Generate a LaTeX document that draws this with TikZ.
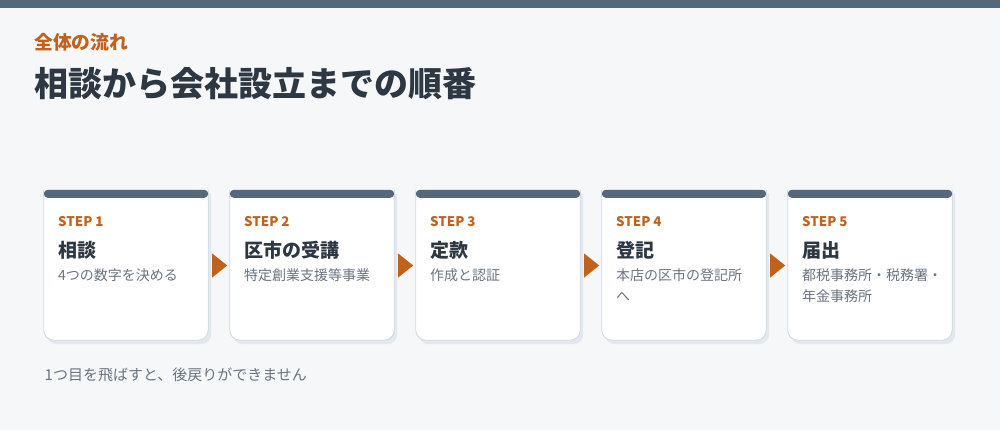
\documentclass[tikz,border=0pt]{standalone}
\usepackage{fontspec}
\setmainfont{Noto Sans CJK JP}
\usetikzlibrary{calc}
\definecolor{bgc}{HTML}{F5F7F9}
\definecolor{slatec}{HTML}{55677A}
\definecolor{accentc}{HTML}{C2611B}
\definecolor{darkc}{HTML}{2D3843}
\definecolor{grayc}{HTML}{6A7480}
\definecolor{linec}{HTML}{D0D9E2}
\definecolor{shadowc}{HTML}{E2E8EE}
\tikzset{
  cardframe/.style={rectangle, minimum width=164pt, minimum height=150pt, inner sep=0pt},
  steplabel/.style={anchor=base west, inner sep=0pt, text=accentc, font=\fontsize{13.3}{16}\selectfont\bfseries},
  cardtitle/.style={anchor=base west, inner sep=0pt, text=darkc, font=\fontsize{19}{23}\selectfont\bfseries},
  cardtext/.style={anchor=base west, inner sep=0pt, text=grayc, font=\fontsize{14}{17}\selectfont},
  arrowhead/.style={fill=accentc},
}
\newcommand\stepcard[6]{%
  \node[cardframe] (card#1) at (#2+82,265) {};
  \fill[shadowc, rounded corners=10pt] ($(card#1.north west)+(3,4)$) -- ($(card#1.south west)+(3,4)$) -- ($(card#1.south east)+(3,4)$) -- ($(card#1.north east)+(3,4)$);
  \path[fill=white, draw=linec, line width=0.8pt, rounded corners=10pt] (card#1.north west) -- (card#1.south west) -- (card#1.south east) -- (card#1.north east);
  \fill[slatec, rounded corners=4pt] (card#1.north west) rectangle ($(card#1.north east)+(0,8)$);
  \node[steplabel] (step#1) at (#2+14,227) {#3};
  \node[cardtitle] (title#1) at (#2+14,257.2) {#4};
  \node[cardtext] (texta#1) at (#2+14,280.3) {#5};
  \node[cardtext] (textb#1) at (#2+14,301.3) {#6};
}
\newcommand\steparrow[1]{%
  \fill[arrowhead] ($(card#1.east)+(4,-11.5)$) -- ($(card#1.east)+(19,0.5)$) -- ($(card#1.east)+(4,12.5)$) -- cycle;
}
\begin{document}
\begin{tikzpicture}[x=1pt,y=-1pt]
\fill[bgc] (0,0) rectangle (1000,430);
\useasboundingbox (0,0) rectangle (1000,430);
\fill[slatec] (0,0) rectangle (1000,8);
\node[anchor=base west, inner sep=0pt, text=accentc, font=\fontsize{18.8}{22}\selectfont\bfseries] (kicker) at (34,49.6) {全体の流れ};
\node[anchor=base west, inner sep=0pt, text=darkc, font=\fontsize{34}{40}\selectfont\bfseries] (headline) at (34.5,96.2) {相談から会社設立までの順番};
\stepcard{1}{44}{STEP 1}{相談}{4つの数字を決める}{}
\stepcard{2}{230}{STEP 2}{区市の受講}{特定創業支援等事業}{}
\stepcard{3}{416}{STEP 3}{定款}{作成と認証}{}
\stepcard{4}{602}{STEP 4}{登記}{本店の区市の登記所}{へ}
\stepcard{5}{788}{STEP 5}{届出}{都税事務所・税務署・}{年金事務所}
\steparrow{1}
\steparrow{2}
\steparrow{3}
\steparrow{4}
\node[anchor=base west, inner sep=0pt, text=grayc, font=\fontsize{15}{18}\selectfont] (footnote) at (44.5,380.7) {1つ目を飛ばすと、後戻りができません};
\end{tikzpicture}
\end{document}
